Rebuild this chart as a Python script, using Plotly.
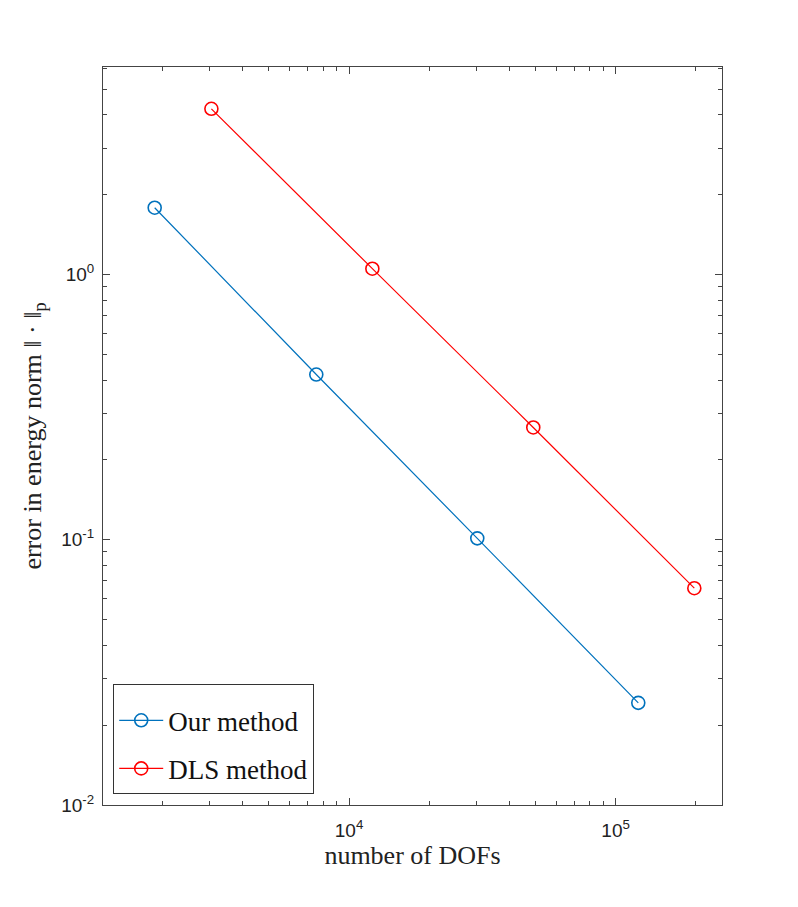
import plotly.graph_objects as go

dofs_our = [1866, 7535, 30270, 121600]
err_our = [1.788, 0.420, 0.1013, 0.02428]
dofs_dls = [3045, 12230, 49100, 197300]
err_dls = [4.22, 1.053, 0.2653, 0.0657]

x_tickvals = [1e4, 1e5]
x_ticktext = ["10<sup>4</sup>", "10<sup>5</sup>"]
y_tickvals = [1e-2, 1e-1, 1e0]
y_ticktext = ["10<sup>-2</sup>", "10<sup>-1</sup>", "10<sup>0</sup>"]

blue = "#0072BD"
red = "#FF0000"
serif = "Liberation Serif, Times New Roman, serif"

fig = go.Figure()
fig.add_trace(go.Scatter(x=dofs_our, y=err_our, mode="lines+markers", name="Our method",
                         legendgroup="a",
                         line=dict(color=blue, width=1.2),
                         marker=dict(symbol="circle-open", size=13, color=blue, line=dict(width=1.6))))
fig.add_trace(go.Scatter(x=dofs_dls, y=err_dls, mode="lines+markers", name="DLS method",
                         legendgroup="b",
                         line=dict(color=red, width=1.2),
                         marker=dict(symbol="circle-open", size=13, color=red, line=dict(width=1.6))))

axis_common = dict(
    type="log", showgrid=False, zeroline=False, showline=True, linecolor="#444",
    linewidth=1, mirror="allticks", ticks="inside", ticklen=7, tickcolor="#444",
    tickfont=dict(family="Liberation Sans, Arial, sans-serif", size=19, color="#222"),
    minor=dict(ticks="inside", ticklen=4, tickcolor="#444", dtick="D1", showgrid=False),
)

fig.update_layout(
    width=798, height=907,
    paper_bgcolor="white", plot_bgcolor="white",
    margin=dict(l=103, r=76, t=67, b=102),
    xaxis=dict(**axis_common, range=[3.077, 5.399], tickvals=x_tickvals, ticktext=x_ticktext,
               ticklabelstandoff=8,
               title=dict(text="number of DOFs", standoff=6,
                          font=dict(family=serif, size=26, color="#222"))),
    yaxis=dict(**axis_common, range=[-2, 0.783], tickvals=y_tickvals, ticktext=y_ticktext,
               ticklabelstandoff=4,
               title=dict(text="error in energy norm \u2016 \u00b7 \u2016<sub>p</sub>", standoff=12,
                          font=dict(family=serif, size=26, color="#222"))),
    legend=dict(x=0.0165, y=0.0155, xanchor="left", yanchor="bottom",
                bgcolor="white", bordercolor="#333", borderwidth=1,
                title=dict(text=" ", font=dict(size=9)),
                font=dict(family=serif, size=27, color="#111"),
                itemwidth=44, tracegroupgap=10, traceorder="grouped"),
    showlegend=True,
)

fig.write_html("out.html")
